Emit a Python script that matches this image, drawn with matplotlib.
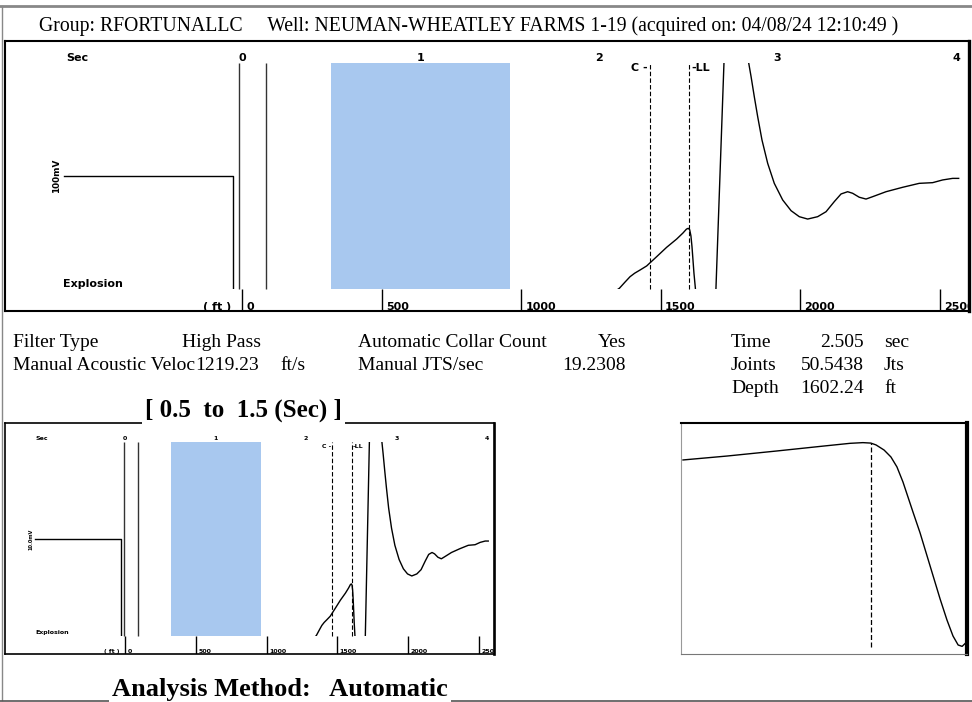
import matplotlib
matplotlib.use("Agg")
import matplotlib.pyplot as plt
from matplotlib.patches import Rectangle
from matplotlib.lines import Line2D
import numpy as np

W, H = 972, 702

# ---- data ----
sec_ticks = [0, 1, 2, 3, 4]
ft_ticks = [0, 500, 1000, 1500, 2000, 2500]
ft_per_sec = 1602.24 / 2.505          # depth / time
window = (0.5, 1.5)                   # analysis window (sec)
marker_times = [-0.015, 0.137]        # solid marker lines
c_time = 2.285
ll_time = 2.505

# calibration pulse
pulse_t = [-1.0, -0.05, -0.05]
pulse_a = [0.0, 0.0, -130.0]

# acoustic trace (time sec, amplitude)
echo_t = [2.07, 2.114, 2.145, 2.174, 2.20, 2.230, 2.267, 2.323, 2.379, 2.435,
          2.470, 2.490, 2.500, 2.508, 2.515, 2.521, 2.532, 2.540, 2.549,
          2.647, 2.700, 2.706, 2.828, 2.839, 2.852, 2.870, 2.889, 2.913,
          2.945, 2.982, 3.029, 3.076, 3.122, 3.169, 3.225, 3.272, 3.318,
          3.356, 3.393, 3.421, 3.458, 3.496, 3.533, 3.608, 3.701, 3.794,
          3.869, 3.925, 3.981, 4.015]
echo_a = [-104, -99.4, -94, -89.1, -86, -83.2, -79.6, -71.4, -63.1, -55.8,
          -50.5, -47.0, -46.3, -47.5, -53, -62.6, -86.1, -99.4, -127,
          -136, 99.7, 124.8, 110, 99.7, 87.9, 70.2, 52.5, 31.9,
          11.2, -6.5, -21.2, -30.7, -36.0, -38.1, -36.0, -31.6, -22.7,
          -15.9, -13.9, -15.3, -18.8, -20.4, -18.3, -13.9, -10.0, -6.5,
          -5.9, -3.5, -2.1, -2.1]

# zoomed view (lower right), arbitrary units 0..100
zoom_x = [0.7, 16.1, 33.6, 49.7, 59.1, 63.6, 66.4, 68.2, 71.0, 73.4, 75.5,
          77.6, 79.7, 81.1, 83.6, 87.1, 90.6, 93.0, 95.1, 96.9, 98.3, 99.3]
zoom_y = [84.0, 85.7, 87.9, 90.0, 91.2, 91.5, 91.3, 90.5, 88.3, 85.3, 81.0,
          74.5, 66.7, 61.5, 52.4, 38.1, 23.8, 14.7, 7.8, 3.9, 3.3, 4.5]
zoom_mark = 66.4

info_left = [("Filter Type", "High Pass", ""),
             ("Manual Acoustic Veloc", "1219.23", "ft/s")]
info_mid = [("Automatic Collar Count", "Yes"),
            ("Manual JTS/sec", "19.2308")]
info_right = [("Time", "2.505", "sec"),
              ("Joints", "50.5438", "Jts"),
              ("Depth", "1602.24", "ft")]

header = ("Group: RFORTUNALLC     Well: NEUMAN-WHEATLEY FARMS 1-19 "
          "(acquired on: 04/08/24 12:10:49 )")

fig = plt.figure(figsize=(W / 100, H / 100), dpi=100)
serif = "Liberation Serif"
sans = "DejaVu Sans"


def fx(x):
    return x / W


def fy(y):
    return 1 - y / H


def shot_panel(box, zero_x, px_sec, zero_y, px_amp, fs, lw):
    x0, y0, x1, y1 = box
    ax = fig.add_axes([fx(x0), fy(y1), (x1 - x0) / W, (y1 - y0) / H])
    xmin, xmax = (x0 - zero_x) / px_sec, (x1 - zero_x) / px_sec
    ymin, ymax = -(y1 - zero_y) / px_amp * 100, (zero_y - y0) / px_amp * 100
    ax.set_xlim(xmin, xmax)
    ax.set_ylim(ymin, ymax)
    ax.set_xticks([])
    ax.set_yticks([])
    for s in ax.spines.values():
        s.set_linewidth(lw)
    ax.spines["right"].set_linewidth(lw * 1.6)
    clip = Rectangle((xmin, -100), xmax - xmin, 200, transform=ax.transData)

    ax.add_patch(Rectangle((window[0], -100), window[1] - window[0], 200,
                           facecolor="#a8c8ef", edgecolor="none"))
    ax.vlines(marker_times, -100, 100, color="#333333", lw=1)
    ax.vlines([c_time, ll_time], -100, 100, color="black", lw=0.8,
              linestyles=[(0, (4, 2))])
    for t, a in [(pulse_t, pulse_a), (echo_t, echo_a)]:
        ln, = ax.plot(t, a, color="black", lw=1)
        ln.set_clip_path(clip)

    bold = dict(fontsize=fs, fontweight="bold", family=sans)
    ax.text(c_time - 0.01, 95.5, "C -", ha="right", va="center", **bold)
    ax.text(ll_time + 0.01, 95.5, "-LL", ha="left", va="center", **bold)
    for s in sec_ticks:
        ax.text(s, 104, str(s), ha="center", va="center", **bold)
    ax.text(-0.92, 104, "Sec", ha="center", va="center", **bold)
    ax.text(-1.0, -96, "Explosion", ha="left", va="center", **bold)
    ax.text(-1.04, 0, "100mV" if fs > 6 else "10.0mV", rotation=90,
            ha="center", va="center", fontsize=fs * 0.8, fontweight="bold",
            family=sans)

    ft_pos = np.array(ft_ticks) / ft_per_sec
    ax.vlines(ft_pos, ymin, -100, color="black", lw=1)
    for p, f in zip(ft_pos, ft_ticks):
        ax.annotate(str(f), (p, -115.5), xytext=(fs * 0.4, 0),
                    textcoords="offset points", ha="left", va="center",
                    annotation_clip=False, clip_on=True, **bold)
    ax.annotate("( ft )", (0, -115.5), xytext=(-fs * 1.0, 0),
                textcoords="offset points", ha="right", va="center", **bold)
    return ax


# top and lower-left shot panels
shot_panel((5, 41, 969, 311), 242, 178.5, 176, 113, 8, 1.5)
shot_panel((5, 423, 494, 654), 125.3, 90.4, 539, 97, 4.5, 1.2)

# lower-right zoom panel
axz = fig.add_axes([fx(681), fy(654), (967 - 681) / W, (654 - 423) / H])
axz.set_xlim(0, 100)
axz.set_ylim(0, 100)
axz.set_xticks([])
axz.set_yticks([])
axz.spines["top"].set_linewidth(1.5)
axz.spines["right"].set_linewidth(3)
axz.spines["left"].set_color("#999999")
axz.spines["bottom"].set_color("#777777")
axz.plot(zoom_x, zoom_y, color="black", lw=1)
axz.vlines([zoom_mark], 2.9, np.interp(zoom_mark, zoom_x, zoom_y),
           color="black", lw=0.9, linestyles=[(0, (4, 2))])

# outer frame
for xs, ys, c, w in [((0, W), (6, 6), "#888888", 2),
                     ((1.5, 1.5), (6, 700), "#888888", 1),
                     ((0, W), (700.5, 700.5), "#555555", 1.2)]:
    fig.add_artist(Line2D([fx(x) for x in xs], [fy(y) for y in ys],
                          color=c, lw=w, transform=fig.transFigure))

fig.text(fx(39), fy(31), header, fontsize=14.2, family=serif, va="baseline")

# info block
renderer = fig.canvas.get_renderer()
for i, (lab, val, unit) in enumerate(info_left):
    y = fy(347 + 23 * i)
    t = fig.text(fx(12.5), y, lab, fontsize=14, family=serif, va="baseline")
    if i == 0:
        xv = fx(181.7)
    else:
        # value sits right against the (truncated) label
        xv = fig.transFigure.inverted().transform(
            (t.get_window_extent(renderer).x1 + 0.5, 0))[0]
    fig.text(xv, y, val, fontsize=14, family=serif, va="baseline")
    fig.text(fx(280), y, unit, fontsize=14, family=serif, va="baseline")
for i, (lab, val) in enumerate(info_mid):
    y = fy(347 + 23 * i)
    fig.text(fx(358), y, lab, fontsize=14, family=serif, va="baseline")
    fig.text(fx(626), y, val, fontsize=14, family=serif, va="baseline",
             ha="right")
for i, (lab, val, unit) in enumerate(info_right):
    y = fy(347 + 23 * i)
    fig.text(fx(731), y, lab, fontsize=14, family=serif, va="baseline")
    fig.text(fx(864), y, val, fontsize=14, family=serif, va="baseline",
             ha="right")
    fig.text(fx(884), y, unit, fontsize=14, family=serif, va="baseline")

wbox = dict(facecolor="white", edgecolor="none", pad=2)
fig.text(fx(145), fy(417), "[ 0.5  to  1.5 (Sec) ]", fontsize=18,
         fontweight="bold", family=serif, va="baseline", bbox=wbox)
fig.text(fx(112), fy(696), "Analysis Method:   Automatic", fontsize=19,
         fontweight="bold", family=serif, va="baseline", bbox=wbox)

fig.savefig("out.png", dpi=100)
